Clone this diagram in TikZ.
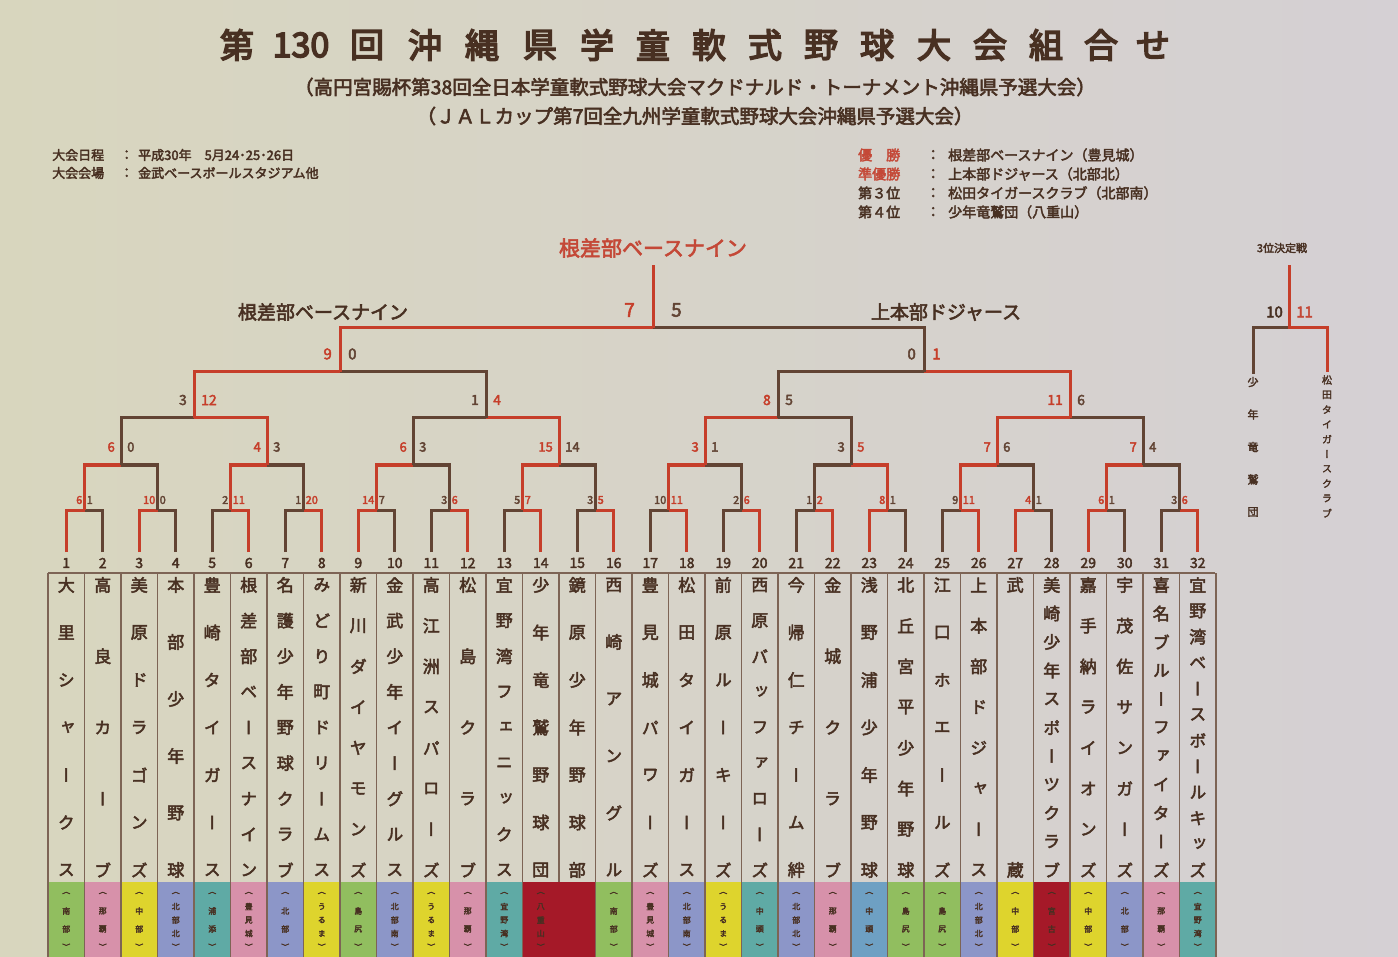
\documentclass[tikz,border=0pt]{standalone}
\usepackage{fontspec}
\newfontfamily\jp{Noto Sans CJK JP}[FakeBold=2.8]
\newfontfamily\jpv{Noto Sans CJK JP}[FakeBold=2.8,RawFeature=+vert]
\newfontfamily\jpt{Noto Sans CJK JP}[FakeBold=4.5]
\definecolor{bgA}{RGB}{216,214,190}
\definecolor{bgB}{RGB}{213,208,212}
\definecolor{ink}{RGB}{72,48,34}
\definecolor{redt}{RGB}{196,72,55}
\definecolor{redl}{RGB}{198,62,42}
\definecolor{darkl}{RGB}{98,68,52}
\definecolor{tabl}{RGB}{125,100,85}
\definecolor{gA}{RGB}{145,190,95}
\definecolor{pB}{RGB}{215,145,170}
\definecolor{yC}{RGB}{222,212,45}
\definecolor{bD}{RGB}{140,150,200}
\definecolor{tE}{RGB}{95,170,165}
\definecolor{cF}{RGB}{165,25,40}
\definecolor{sG}{RGB}{110,160,195}
\tikzset{
  brk/.style={line width=3pt,line join=miter},
  sc/.style={inner sep=0pt,font=\jp\fontsize{\scs}{\scs}\selectfont},
  tn/.style={inner sep=0pt,text=ink,font=\jpv\fontsize{17}{17}\selectfont},
  rg/.style={inner sep=0pt,text=ink,font=\jpv\fontsize{8}{8}\selectfont},
  num/.style={inner sep=0pt,text=ink,font=\jp\fontsize{14}{14}\selectfont},
  info/.style={inner sep=0pt,anchor=west,text=ink,font=\jp\fontsize{13}{13}\selectfont},
  rinfo/.style={inner sep=0pt,anchor=west,text=ink,font=\jp\fontsize{14}{14}\selectfont},
  ttl/.style={inner sep=0pt,text=ink,font=\jpt\fontsize{34}{36}\selectfont},
  sub/.style={inner sep=0pt,text=ink,font=\jp\fontsize{19.5}{20}\selectfont},
  lbl/.style={inner sep=0pt,text=ink,font=\jp\fontsize{19}{20}\selectfont},
  tabline/.style={draw=tabl,line width=1.2pt}
}
\def\scs{13}\def\scg{5}\def\scoff{17}
\newcommand\mt[8]{%
  \if#6L\def\cA{redl}\def\cB{darkl}\else\def\cA{darkl}\def\cB{redl}\fi
  \draw[brk,draw=\cB] (#2,#5) -- (#2,#4) -- (#3,#4);
  \draw[brk,draw=\cA] (#1,#5) -- (#1,#4) -- (#3,#4);
  \node[sc,anchor=east,text=\cA] at (#3-\scg,#4-\scoff) {#7};
  \node[sc,anchor=west,text=\cB] at (#3+\scg,#4-\scoff) {#8};
}
\newcommand\brround[4]{%
  \foreach \w/\sa/\sb [count=\m] in {#4} {
    \pgfmathsetmacro\blk{2^(#1-1)}
    \pgfmathsetmacro\xa{29.75+36.5*((\m-1)*2*\blk+1+(\blk-1)/2)}
    \pgfmathsetmacro\xb{\xa+36.5*\blk}
    \pgfmathsetmacro\xc{(\xa+\xb)/2}
    \mt{\xa}{\xb}{\xc}{#2}{#3}{\w}{\sa}{\sb}
  }}
\newcommand\team[3]{%
  \foreach \ch [count=\k] in {#3} {
    \pgfmathsetmacro\yy{585+(\k-1)*285/(#2-1)}
    \node[tn] at ({29.75+36.5*#1},\yy) {\ch};
  }}
\newcommand\reg[3]{%
  \foreach \ch [count=\k] in {#3} {
    \pgfmathsetmacro\yy{893+(\k-1)*54/(#2-1)}
    \node[rg] at ({29.75+36.5*#1},\yy) {\ch};
  }}
\begin{document}
\begin{tikzpicture}[x=1pt,y=-1pt]
\useasboundingbox (0,0) rectangle (1398,957);
\shade[left color=bgA,right color=bgB] (0,0) rectangle (1398,957);

% title
\foreach \t/\x in {第/237,130/301,回/367,沖/425,縄/482,県/540,学/597,童/653,軟/709,式/765,野/821,球/877,大/934,会/990,組/1046,合/1101,せ/1153}
  \node[ttl] at (\x,45) {\t};
\node[sub] (s1) at (695,87) {（高円宮賜杯第38回全日本学童軟式野球大会マクドナルド・トーナメント沖縄県予選大会）};
\node[sub] (s2) at (695,116) {（ＪＡＬカップ第7回全九州学童軟式野球大会沖縄県予選大会）};

% info left
\node[info] (i1) at (52,155) {大会日程};
\node[info] at (120,155) {：};
\node[info] at (138,155) {平成30年　5月24･25･26日};
\node[info] (i2) at (52,173) {大会会場};
\node[info] at (120,173) {：};
\node[info] at (138,173) {金武ベースボールスタジアム他};

% info right
\node[rinfo,text=redt] at (858,155) {優　勝};
\node[rinfo,text=redt] at (858,174) {準優勝};
\node[rinfo] at (858,193) {第３位};
\node[rinfo] at (858,212) {第４位};
\foreach \y in {155,174,193,212} \node[rinfo] at (926,\y) {：};
\node[rinfo] at (948,155) {根差部ベースナイン（豊見城）};
\node[rinfo] at (948,174) {上本部ドジャース（北部北）};
\node[rinfo] at (948,193) {松田タイガースクラブ（北部南）};
\node[rinfo] at (948,212) {少年竜鷲団（八重山）};

% labels
\node[lbl,text=redt,font=\jp\fontsize{21}{22}\selectfont] (champ) at (653,248) {根差部ベースナイン};
\node[lbl] (fl) at (323,312) {根差部ベースナイン};
\node[lbl] (fr) at (946,312) {上本部ドジャース};

% table colour boxes
\foreach \c [count=\i] in {gA,pB,yC,bD,tE,pB,bD,yC,gA,bD,yC,pB,tE,cF,cF,gA,pB,bD,yC,tE,bD,pB,sG,gA,gA,bD,yC,cF,yC,bD,pB,tE}
  \fill[fill=\c] ({48+36.5*(\i-1)},882) rectangle ({48+36.5*\i},957);
\draw[tabline] (48,573) -- (1215,573);
\foreach \k in {0,...,32} {
  \ifnum\k=14 \draw[tabline] ({48+36.5*\k},573) -- ({48+36.5*\k},882);
  \else \draw[tabline] ({48+36.5*\k},573) -- ({48+36.5*\k},957); \fi
}

% numbers
\foreach \i in {1,...,32} \node[num] (n\i) at ({29.75+36.5*\i},563) {\i};

% bracket
\def\scs{11}\def\scg{2}\def\scoff{10}
\brround{1}{510}{552}{L/6/1,L/10/0,R/2/11,R/1/20,L/14/7,R/3/6,R/5/7,R/3/5,R/10/11,R/2/6,R/1/2,L/8/1,R/9/11,L/4/1,L/6/1,R/3/6}
\def\scs{13}\def\scg{6}\def\scoff{18}
\brround{2}{465}{510}{L/6/0,L/4/3,L/6/3,L/15/14,L/3/1,R/3/5,L/7/6,L/7/4}
\def\scs{14}\def\scg{7}\def\scoff{18}
\brround{3}{418}{465}{R/3/12,R/1/4,L/8/5,L/11/6}
\def\scs{15}\def\scg{8}\def\scoff{18}
\brround{4}{372}{418}{L/9/0,R/0/1}
\def\scs{19}\def\scg{18}\def\scoff{18}
\mt{340}{924}{653}{328}{372}{L}{7}{5}
\draw[brk,draw=redl] (653,328) -- (653,265);

% team names
\team{1}{7}{大,里,シ,ャ,ー,ク,ス}
\team{2}{5}{高,良,カ,ー,ブ}
\team{3}{7}{美,原,ド,ラ,ゴ,ン,ズ}
\team{4}{6}{本,部,少,年,野,球}
\team{5}{7}{豊,崎,タ,イ,ガ,ー,ス}
\team{6}{9}{根,差,部,ベ,ー,ス,ナ,イ,ン}
\team{7}{9}{名,護,少,年,野,球,ク,ラ,ブ}
\team{8}{9}{み,ど,り,町,ド,リ,ー,ム,ス}
\team{9}{8}{新,川,ダ,イ,ヤ,モ,ン,ズ}
\team{10}{9}{金,武,少,年,イ,ー,グ,ル,ス}
\team{11}{8}{高,江,洲,ス,パ,ロ,ー,ズ}
\team{12}{5}{松,島,ク,ラ,ブ}
\team{13}{9}{宜,野,湾,フ,ェ,ニ,ッ,ク,ス}
\team{14}{7}{少,年,竜,鷲,野,球,団}
\team{15}{7}{鏡,原,少,年,野,球,部}
\team{16}{6}{西,崎,ア,ン,グ,ル}
\team{17}{7}{豊,見,城,パ,ワ,ー,ズ}
\team{18}{7}{松,田,タ,イ,ガ,ー,ス}
\team{19}{7}{前,原,ル,ー,キ,ー,ズ}
\team{20}{9}{西,原,バ,ッ,フ,ァ,ロ,ー,ズ}
\team{21}{7}{今,帰,仁,チ,ー,ム,絆}
\team{22}{5}{金,城,ク,ラ,ブ}
\team{23}{7}{浅,野,浦,少,年,野,球}
\team{24}{8}{北,丘,宮,平,少,年,野,球}
\team{25}{7}{江,口,ホ,エ,ー,ル,ズ}
\team{26}{8}{上,本,部,ド,ジ,ャ,ー,ス}
\team{27}{2}{武,蔵}
\team{28}{11}{美,崎,少,年,ス,ポ,ー,ツ,ク,ラ,ブ}
\team{29}{8}{嘉,手,納,ラ,イ,オ,ン,ズ}
\team{30}{8}{宇,茂,佐,サ,ン,ガ,ー,ズ}
\team{31}{11}{喜,名,ブ,ル,ー,フ,ァ,イ,タ,ー,ズ}
\team{32}{12}{宜,野,湾,ベ,ー,ス,ボ,ー,ル,キ,ッ,ズ}

% region labels
\reg{1}{4}{（,南,部,）}
\reg{2}{4}{（,那,覇,）}
\reg{3}{4}{（,中,部,）}
\reg{4}{5}{（,北,部,北,）}
\reg{5}{4}{（,浦,添,）}
\reg{6}{5}{（,豊,見,城,）}
\reg{7}{4}{（,北,部,）}
\reg{8}{5}{（,う,る,ま,）}
\reg{9}{4}{（,島,尻,）}
\reg{10}{5}{（,北,部,南,）}
\reg{11}{5}{（,う,る,ま,）}
\reg{12}{4}{（,那,覇,）}
\reg{13}{5}{（,宜,野,湾,）}
\reg{14}{5}{（,八,重,山,）}
\reg{16}{4}{（,南,部,）}
\reg{17}{5}{（,豊,見,城,）}
\reg{18}{5}{（,北,部,南,）}
\reg{19}{5}{（,う,る,ま,）}
\reg{20}{4}{（,中,頭,）}
\reg{21}{5}{（,北,部,北,）}
\reg{22}{4}{（,那,覇,）}
\reg{23}{4}{（,中,頭,）}
\reg{24}{4}{（,島,尻,）}
\reg{25}{4}{（,島,尻,）}
\reg{26}{5}{（,北,部,北,）}
\reg{27}{4}{（,中,部,）}
\reg{28}{4}{（,宮,古,）}
\reg{29}{4}{（,中,部,）}
\reg{30}{4}{（,北,部,）}
\reg{31}{4}{（,那,覇,）}
\reg{32}{5}{（,宜,野,湾,）}

% third place
\node[inner sep=0pt,text=ink,font=\jp\fontsize{11}{11}\selectfont] (tp) at (1282,248) {3位決定戦};
\coordinate (tc) at (1289,328);
\coordinate (tl) at (1253,328);
\coordinate (tr) at (1327,328);
\draw[brk,draw=darkl] (1253,374) -- (tl) -- (tc);
\draw[brk,draw=redl] (1327,372) -- (tr) -- (tc) -- (1289,265);
\node[inner sep=0pt,anchor=east,text=ink,font=\jp\fontsize{15}{15}\selectfont] at (1283,312) {10};
\node[inner sep=0pt,anchor=west,text=redt,font=\jp\fontsize{15}{15}\selectfont] at (1296,312) {11};
\foreach \ch [count=\k] in {少,年,竜,鷲,団}
  \node[inner sep=0pt,text=ink,font=\jpv\fontsize{11}{11}\selectfont] at (1253,{382+(\k-1)*32.5}) {\ch};
\foreach \ch [count=\k] in {松,田,タ,イ,ガ,ー,ス,ク,ラ,ブ}
  \node[inner sep=0pt,text=ink,font=\jpv\fontsize{10}{10}\selectfont] at (1327,{380+(\k-1)*14.8}) {\ch};
\end{tikzpicture}
\end{document}
